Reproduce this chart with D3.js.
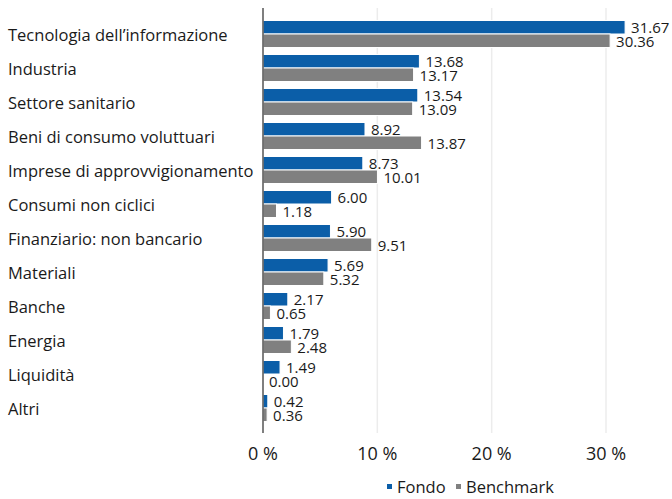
<!DOCTYPE html>
<html>
<head>
<meta charset="utf-8">
<script src="https://d3js.org/d3.v7.min.js"></script>
<style>
  body { margin: 0; background: white; }
  text { font-family: "Open Sans", sans-serif; fill: #1a1a1a; }
</style>
</head>
<body>
<svg id="chart" width="672" height="499"></svg>
<script>
var categories = ["Tecnologia dell\u2019informazione", "Industria", "Settore sanitario",
  "Beni di consumo voluttuari", "Imprese di approvvigionamento", "Consumi non ciclici",
  "Finanziario: non bancario", "Materiali", "Banche", "Energia", "Liquidit\u00e0", "Altri"];
var fondo = [31.67, 13.68, 13.54, 8.92, 8.73, 6.00, 5.90, 5.69, 2.17, 1.79, 1.49, 0.42];
var benchmark = [30.36, 13.17, 13.09, 13.87, 10.01, 1.18, 9.51, 5.32, 0.65, 2.48, 0.00, 0.36];
var ticks = [0, 10, 20, 30];
var seriesNames = ["Fondo", "Benchmark"];
var colors = ["#0b5ea8", "#808080"];

var svg = d3.select("#chart");

var x = d3.scaleLinear().domain([0, 30]).range([263, 606]);
var y = d3.scaleBand().domain(categories).range([17, 425]);

// gridlines
svg.append("g").selectAll("line")
  .data(ticks.slice(1))
  .enter().append("line")
    .attr("x1", function(d) { return x(d); })
    .attr("x2", function(d) { return x(d); })
    .attr("y1", 8).attr("y2", 433)
    .attr("stroke", "#ececec").attr("stroke-width", 1.5);

var series = [fondo, benchmark];
var barH = 13.5;

series.forEach(function(vals, s) {
  var g = svg.append("g");
  g.selectAll("rect")
    .data(vals)
    .enter().append("rect")
      .attr("x", x(0))
      .attr("y", function(d, i) { return y(categories[i]) + y.bandwidth() / 2 - barH + s * barH; })
      .attr("width", function(d) { return x(d) - x(0); })
      .attr("height", barH)
      .attr("fill", colors[s])
      .attr("stroke", "#ffffff")
      .attr("stroke-width", 1);

  // value labels (fondo sits a touch lower than its bar centre, like the original)
  g.selectAll("text")
    .data(vals)
    .enter().append("text")
      .attr("x", function(d) { return x(d) + 6; })
      .attr("y", function(d, i) { return y(categories[i]) + y.bandwidth() / 2 - barH / 2 + s * barH + (s ? 0.5 : 0.5); })
      .attr("dy", "0.36em")
      .attr("font-size", 15)
      .attr("stroke", "#fff").attr("stroke-width", 2).attr("paint-order", "stroke")
      .text(function(d) { return d.toFixed(2); });
});

// axis line
svg.append("line")
  .attr("x1", x(0)).attr("x2", x(0))
  .attr("y1", 8).attr("y2", 433)
  .attr("stroke", "#555").attr("stroke-width", 1.5);

// category labels
svg.append("g").selectAll("text")
  .data(categories)
  .enter().append("text")
    .attr("x", 8)
    .attr("y", function(d) { return y(d) + y.bandwidth() / 2 + 1; })
    .attr("dy", "0.36em")
    .attr("font-size", 16.5)
    .text(function(d) { return d; });

// tick labels
svg.append("g").selectAll("text")
  .data(ticks)
  .enter().append("text")
    .attr("x", function(d) { return x(d); })
    .attr("y", 454)
    .attr("dy", "0.36em")
    .attr("text-anchor", "middle")
    .attr("font-size", 18)
    .text(function(d) { return d + " %"; });

// legend
var leg = svg.append("g");
var lx = [387, 456];
seriesNames.forEach(function(n, i) {
  leg.append("rect").attr("x", lx[i]).attr("y", 484).attr("width", 5).attr("height", 5).attr("fill", colors[i]);
  leg.append("text").attr("x", lx[i] + 10).attr("y", 487).attr("dy", "0.36em")
    .attr("font-size", 16.5).text(n);
});
</script>
</body>
</html>
